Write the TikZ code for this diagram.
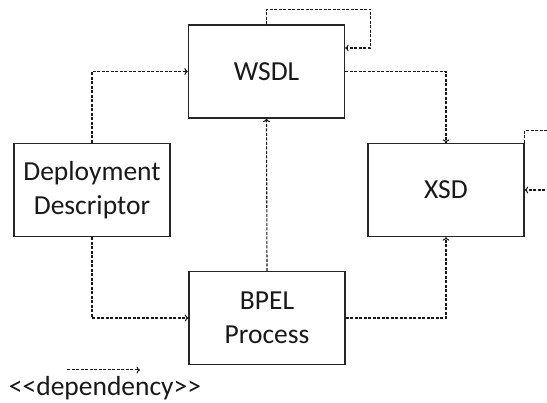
\documentclass[tikz,border=0pt]{standalone}
\usepackage{fontspec}
\setmainfont{Carlito}
\usetikzlibrary{arrows.meta}
\begin{document}
\begin{tikzpicture}[x=1pt,y=-1pt,
  box/.style={draw=black!85,line width=1.3pt,minimum width=156pt,minimum height=93pt,inner sep=0pt,align=center,
    font=\fontsize{27.5}{34}\selectfont,text=black!90},
  dep/.style={draw=black!90,line width=1.1pt,dash pattern=on 3pt off 1.5pt,-{To[length=3.5pt,width=7pt]}}]
\useasboundingbox (0,0) rectangle (547,403);
\node[box] (wsdl) at (266.5,71.5) {WSDL};
\node[box] (xsd) at (446,190) {XSD};
\node[box] (dd) at (92,190) {Deployment\\Descriptor};
\node[box] (bpel) at (267,318) {BPEL\\Process};
\draw[dep] (dd.north) |- (wsdl.west);
\draw[dep] (dd.south) |- (bpel.west);
\draw[dep] (bpel.north) -- (wsdl.south);
\draw[dep] (wsdl.east) -| (xsd.north);
\draw[dep] (bpel.east) -| (xsd.south);
\draw[dep] (wsdl.north) |- ++(104,-15) |- ([yshift=23.5pt]wsdl.east);
\draw[dep] (xsd.north east) -- ++(0,-12) -- ++(40,0) |- (xsd.east);
\coordinate (la) at (67,370);
\coordinate (lb) at (140,370);
\draw[dep,line width=1pt] (la) -- (lb);
\node[font=\fontsize{27.5}{33}\selectfont,text=black!90,inner sep=0pt,anchor=base] (legend) at (105,396) {<\kern0pt<dependency>\kern0pt>};
\end{tikzpicture}
\end{document}
